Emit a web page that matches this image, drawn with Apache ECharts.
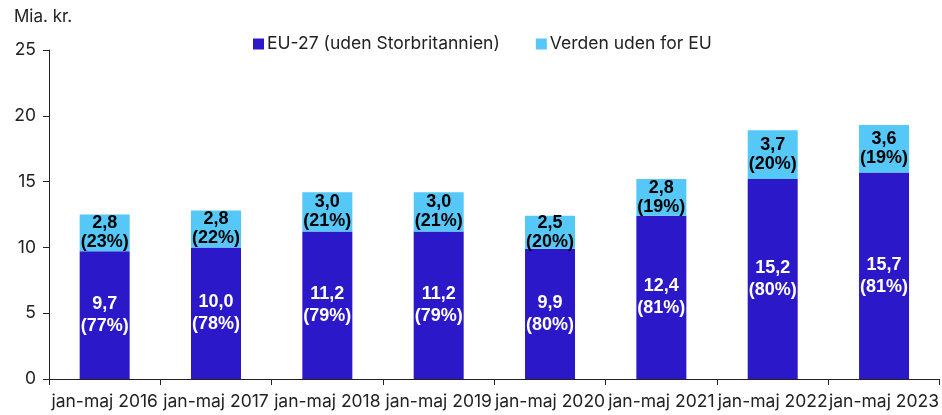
<!DOCTYPE html>
<html><head><meta charset="utf-8">
<script src="https://cdn.jsdelivr.net/npm/echarts@6/dist/echarts.min.js"></script>
<style>html,body{margin:0;padding:0;background:#fff}#c{width:942px;height:415px}</style>
</head><body><div id="c"></div>
<script>
const categories = ['jan-maj 2016','jan-maj 2017','jan-maj 2018','jan-maj 2019','jan-maj 2020','jan-maj 2021','jan-maj 2022','jan-maj 2023'];
const euValues = [9.7, 10.0, 11.2, 11.2, 9.9, 12.4, 15.2, 15.7];
const euShares = [77, 78, 79, 79, 80, 81, 80, 81];
const worldValues = [2.8, 2.8, 3.0, 3.0, 2.5, 2.8, 3.7, 3.6];
const worldShares = [23, 22, 21, 21, 20, 19, 20, 19];
const yTicks = [0, 5, 10, 15, 20, 25];

const fmt = v => v.toFixed(1).replace('.', ',');
const font = 'Inter, Roboto, sans-serif';
const chart = echarts.init(document.getElementById('c'));
chart.setOption({
  animation: false,
  grid: {left: 49, right: 2, top: 50, bottom: 36, containLabel: false},
  legend: {
    top: 30, left: 248, itemGap: 36, itemWidth: 11, itemHeight: 11, icon: 'rect',
    textStyle: {fontFamily: font, fontSize: 17.5, color: '#222', padding: [0,0,0,-2]},
    data: ['EU-27 (uden Storbritannien)', 'Verden uden for EU']
  },
  graphic: [{type: 'text', left: 14, top: 8, style: {text: 'Mia. kr.', fontFamily: font, fontSize: 17, fill: '#222'}}],
  xAxis: {
    type: 'category', data: categories,
    axisLine: {lineStyle: {color: '#222', width: 1}},
    axisTick: {show: true, alignWithLabel: false, length: 6, lineStyle: {color: '#222'}},
    axisLabel: {fontFamily: font, fontSize: 17.5, color: '#222', margin: 14, interval: 0}
  },
  yAxis: {
    type: 'value', min: yTicks[0], max: yTicks[yTicks.length-1], interval: 5,
    splitLine: {show: false},
    axisLine: {show: true, lineStyle: {color: '#222'}},
    axisTick: {show: true, length: 6, lineStyle: {color: '#222'}},
    axisLabel: {fontFamily: font, fontSize: 17.5, color: '#222', margin: 13}
  },
  series: [
    {
      name: 'EU-27 (uden Storbritannien)', type: 'bar', stack: 'a', barWidth: 50,
      itemStyle: {color: '#2b18c8'},
      data: euValues,
      label: {show: true, position: 'inside', color: '#fff', fontFamily: 'Liberation Sans, Arial, sans-serif', fontWeight: 'bold', fontSize: 18, lineHeight: 22,
        formatter: p => fmt(p.value) + '\n(' + euShares[p.dataIndex] + '%)'}
    },
    {
      name: 'Verden uden for EU', type: 'bar', stack: 'a', barWidth: 50,
      itemStyle: {color: '#55c8f8'},
      data: worldValues,
      label: {show: true, position: 'inside', color: '#000', fontFamily: 'Liberation Sans, Arial, sans-serif', fontWeight: 'bold', fontSize: 18, lineHeight: 19,
        formatter: p => fmt(p.value) + '\n(' + worldShares[p.dataIndex] + '%)'}
    }
  ]
});
</script></body></html>
